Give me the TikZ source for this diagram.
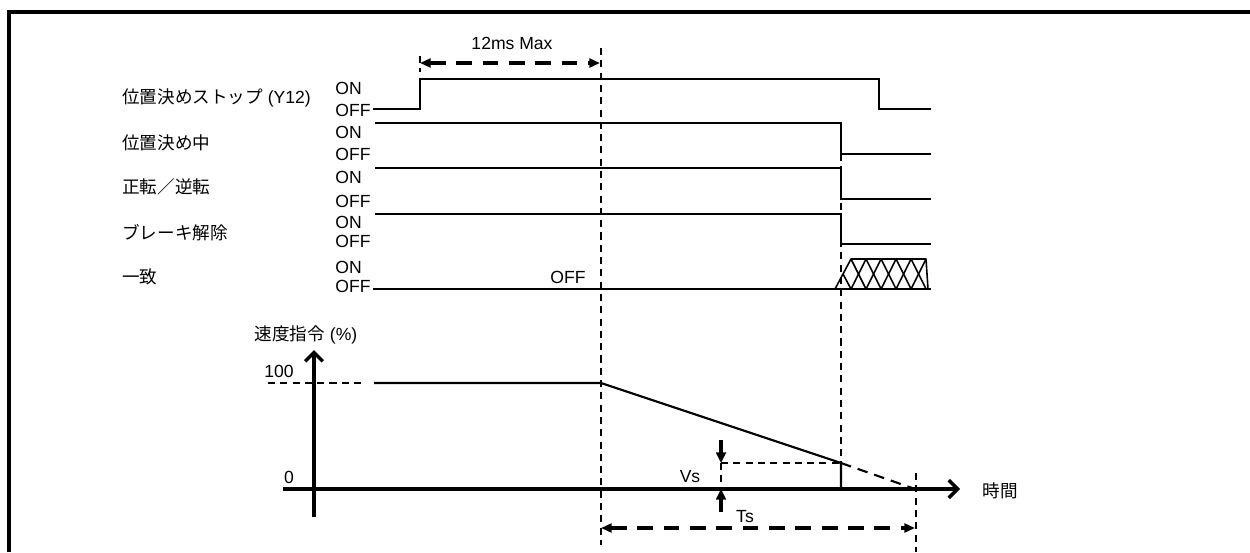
\documentclass[tikz,border=0pt]{standalone}
\usepackage{fontspec}
\setmainfont{Liberation Sans}
\newfontfamily\jpfont{Noto Sans CJK JP}
\usetikzlibrary{arrows.meta,positioning}

\begin{document}
\begin{tikzpicture}[x=0.02cm,y=-0.02cm]
\tikzset{
  txt/.style={inner sep=0pt,font=\fontsize{10}{12}\selectfont},
  sigline/.style={line width=1.2pt},
  hatch/.style={line width=0.9pt,line join=round},
  guide/.style={line width=0.8pt,dash pattern=on 4pt off 3pt},
  thindash/.style={line width=0.8pt,dash pattern=on 4pt off 3pt},
  spanarrow/.style={line width=2.2pt,dash pattern=on 9pt off 6pt,
    {Triangle[length=6pt,width=5pt]}-{Triangle[length=6pt,width=5pt]}},
  vsarrow/.style={line width=2pt,-{Triangle[length=6pt,width=5.5pt]}},
  axis/.style={line width=2pt,-{Straight Barb[length=5pt,width=10pt,line width=2pt]}}
}
\useasboundingbox (0,0) rectangle (1250,552);
% frame
\draw[line width=2.3pt] (9,552) -- (9,12) -- (1250,12);
% signal names
\node[txt,anchor=west] (n_stop) at (122,98) {{\jpfont 位置決めストップ} (Y12)};
\node[txt,anchor=west] (n_busy) at (122,143) {\jpfont 位置決め中};
\node[txt,anchor=west] (n_dir) at (122,187) {\jpfont 正転／逆転};
\node[txt,anchor=west] (n_brk) at (122,233) {\jpfont ブレーキ解除};
\node[txt,anchor=west] (n_match) at (122,277) {\jpfont 一致};
% levels
\node[txt,anchor=west] (on_1) at (335,88) {ON};
\node[txt,anchor=west] (off_1) at (335,110) {OFF};
\node[txt,anchor=west] (on_2) at (335,132) {ON};
\node[txt,anchor=west] (off_2) at (335,154) {OFF};
\node[txt,anchor=west] (on_3) at (335,177) {ON};
\node[txt,anchor=west] (off_3) at (335,201) {OFF};
\node[txt,anchor=west] (on_4) at (335,222) {ON};
\node[txt,anchor=west] (off_4) at (335,241) {OFF};
\node[txt,anchor=west] (on_5) at (335,267) {ON};
\node[txt,anchor=west] (off_5) at (335,286) {OFF};
\node[txt] (off_mid) at (568,277) {OFF};
% waveforms
\draw[sigline] (373,109) -- (420,109) -- (420,79) -- (879,79) -- (879,109) -- (931,109);
\draw[sigline] (375,123) -- (841,123) -- (841,154) -- (931,154);
\draw[sigline] (375,168) -- (841,168) -- (841,199) -- (931,199);
\draw[sigline] (375,214) -- (841,214) -- (841,244) -- (931,244);
\draw[sigline] (373,289) -- (931,289);
% undefined state
\draw[hatch] (835,289) -- (851,259) -- (926,259) -- (928,289);
\draw[hatch] (851,259) -- (866,289) -- (881,259) -- (896,289) -- (911,259) -- (926,289);
\draw[hatch] (843,274) -- (851,289) -- (866,259) -- (881,289) -- (896,259) -- (911,289) -- (926,259);
% timing guides
\draw[guide] (601,48) -- (601,545);
\draw[guide] (420,56) -- (420,72);
\draw[guide] (841,154) -- (841,463);
\draw[guide] (916,473) -- (916,552);
\coordinate (t_on) at (420,63);
\coordinate (t_max) at (600,63);
\draw[spanarrow] (t_on) -- (t_max);
\node[txt] (n_12ms) at (512,43) {12ms Max};
% speed axes
\coordinate (ax_bot) at (314,517);
\coordinate (ax_top) at (314,350);
\coordinate (ax_left) at (283,489);
\coordinate (ax_right) at (960,489);
\draw[axis] (ax_bot) -- (ax_top);
\draw[axis] (ax_left) -- (ax_right);
\node[txt] (n_speed) at (306,335) {{\jpfont 速度指令} (\%)};
\node[txt] (n_100) at (279,371) {100};
\node[txt] (n_0) at (289,477) {0};
\node[txt] (n_time) at (1000,491) {\jpfont 時間};
% speed command
\coordinate (v_full) at (601,383);
\coordinate (v_stop) at (841,463);
\coordinate (v_zero) at (915,489);
\draw[thindash] (268,383) -- (363,383);
\draw[sigline] (374,383) -- (v_full) -- (v_stop) -- (841,489);
\draw[line width=1.2pt,dash pattern=on 6pt off 4pt] (v_stop) -- (v_zero);
% Vs
\draw[thindash] (721,463) -- (v_stop);
\draw[thindash] (721,463) -- (721,489);
\draw[vsarrow] (721,440) -- (721,463);
\draw[vsarrow] (721,512) -- (721,489);
\node[txt] (n_vs) at (690,477) {Vs};
% Ts
\coordinate (ts_a) at (601,528);
\coordinate (ts_b) at (915,528);
\draw[spanarrow] (ts_a) -- (ts_b);
\node[txt] (n_ts) at (745,517) {Ts};
\end{tikzpicture}
\end{document}
